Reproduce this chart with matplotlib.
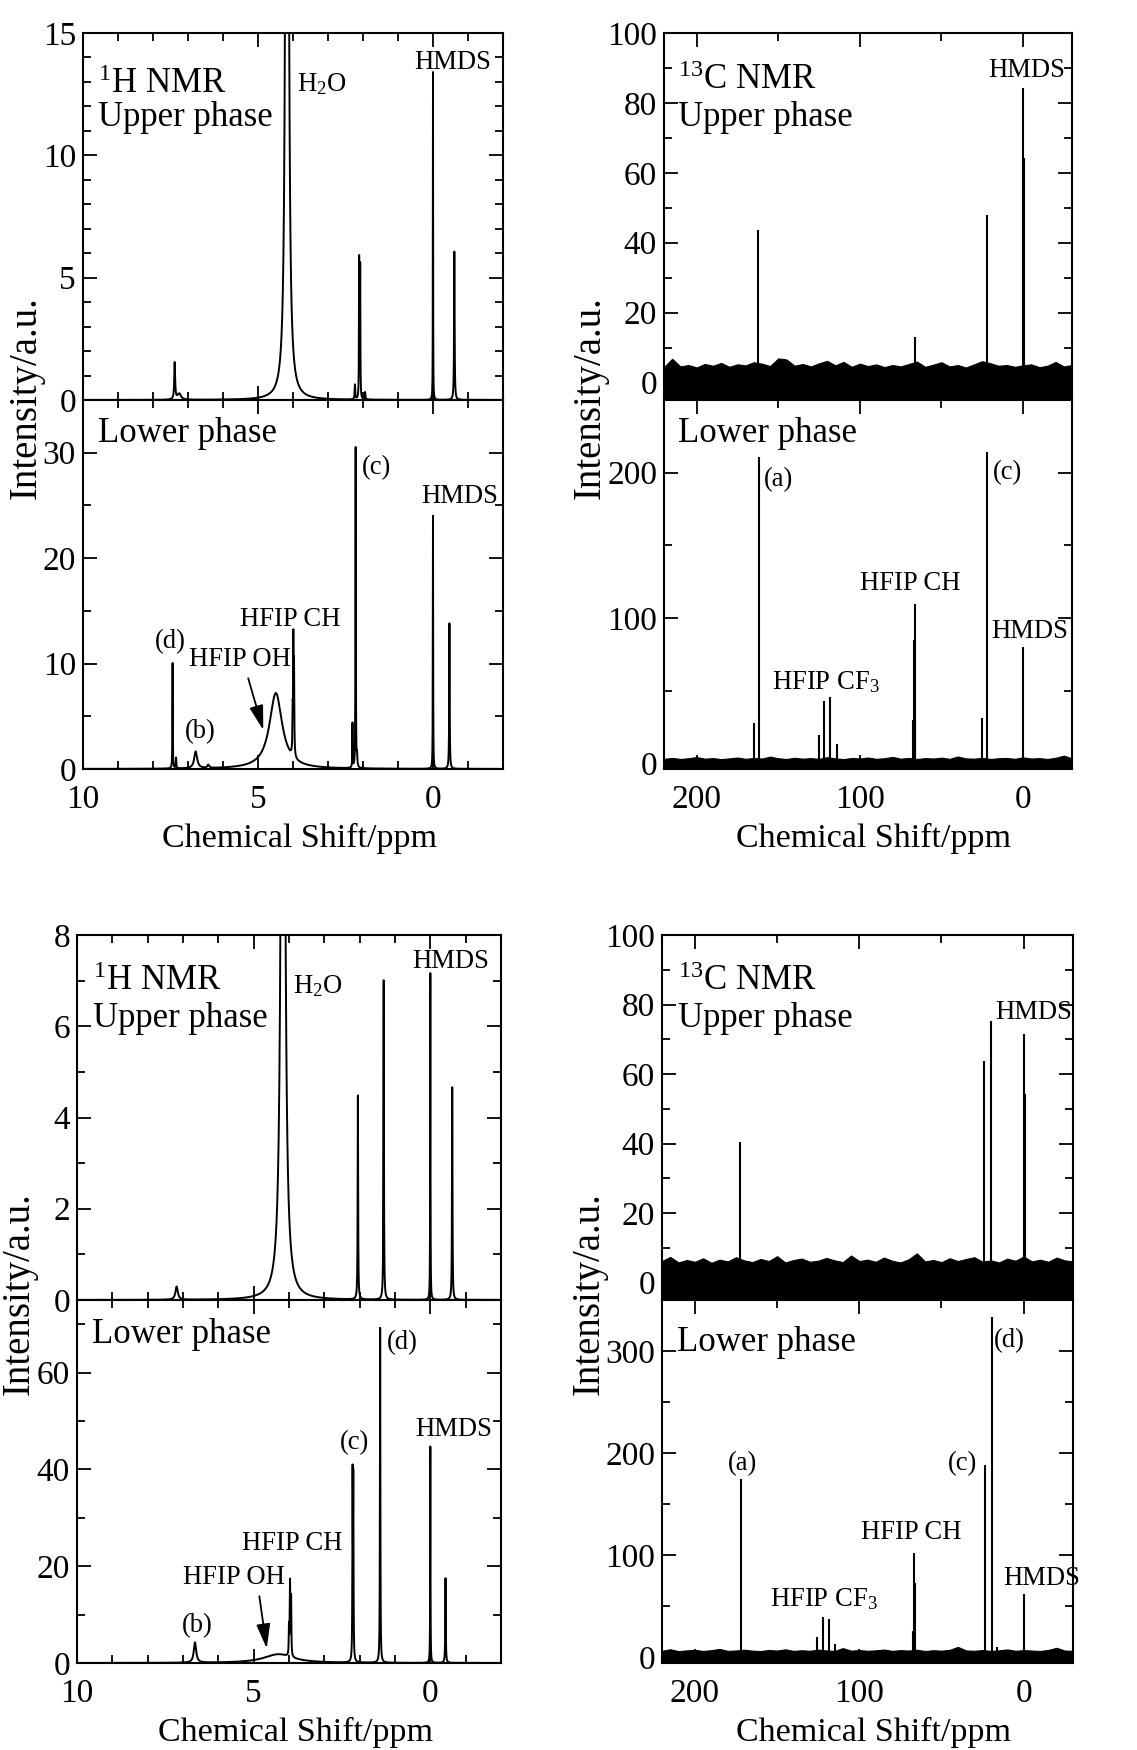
import numpy as np
import matplotlib
matplotlib.use("Agg")
import matplotlib.pyplot as plt
from matplotlib.ticker import MultipleLocator

plt.rcParams['font.family'] = ['Liberation Serif', 'DejaVu Serif']
plt.rcParams['mathtext.fontset'] = 'custom'
plt.rcParams['mathtext.rm'] = 'Liberation Serif'
plt.rcParams['mathtext.it'] = 'Liberation Serif:italic'

# ---- 1H peaks (ppm, height, half width) ----
a_h_up_pos = [7.38, 7.25, 4.17, 2.23, 2.11, 2.08, 1.94, 0.0, -0.61]
a_h_up_hgt = [1.5, 0.25, 100, 0.6, 5.7, 5.4, 0.3, 13.4, 6.06]
a_h_up_wid = [0.015, 0.06, 0.026, 0.01, 0.006, 0.006, 0.01, 0.004, 0.009]

a_h_lo_pos = [7.44, 7.34, 6.78, 6.42, 4.49, 4.01, 3.99, 3.97, 2.30, 2.21, 2.17, 0.0, -0.47]
a_h_lo_hgt = [10.0, 1.0, 1.6, 0.3, 7.2, 3.5, 10.5, 8.0, 4.2, 30.4, 1.0, 24.0, 13.8]
a_h_lo_wid = [0.006, 0.008, 0.05, 0.03, 0.22, 0.008, 0.008, 0.008, 0.006, 0.006, 0.01, 0.005, 0.008]

b_h_up_pos = [7.18, 4.17, 2.05, 1.32, 0.0, -0.62]
b_h_up_hgt = [0.29, 30, 4.47, 7.0, 7.16, 4.66]
b_h_up_wid = [0.04, 0.045, 0.008, 0.008, 0.005, 0.008]

b_h_lo_pos = [6.66, 4.30, 4.00, 3.97, 3.94, 2.20, 2.18, 1.42, 0.0, -0.43]
b_h_lo_hgt = [4.2, 1.8, 6.0, 15.0, 12.0, 37.0, 36.0, 69.2, 44.7, 17.5]
b_h_lo_wid = [0.04, 0.5, 0.008, 0.008, 0.008, 0.007, 0.007, 0.007, 0.005, 0.008]

# ---- 13C peaks (ppm, height) ----
a_c_up_pos = [162.5, 66.1, 22.2, 0.0, -0.6]
a_c_up_hgt = [43.7, 13.0, 48.0, 84.4, 64.2]
a_c_lo_pos = [165.1, 161.9, 125.3, 121.7, 118.0, 114.1, 67.2, 66.8, 66.4, 66.0, 24.9, 21.9, 0.0]
a_c_lo_hgt = [28, 210.8, 19.3, 42.8, 45.3, 12.9, 30, 85, 109.7, 30, 31, 214, 79.8]

b_c_up_pos = [172.3, 24.2, 19.8, 0.0, -0.7]
b_c_up_hgt = [40.4, 63.8, 75.4, 71.4, 54.3]
b_c_lo_pos = [171.7, 125.6, 122.0, 118.2, 114.5, 67.1, 66.7, 66.3, 23.6, 19.2, 16.0, 0.0]
b_c_lo_hgt = [174, 19.6, 39, 37.6, 13, 25, 102, 72, 188, 333, 10, 62]

# 13C noise band: upper edge read every 5 ppm from 220 to -30
noise_ppm = list(range(220, -31, -5))
a_c_up_noise = [4.4, 6.8, 4.6, 5.0, 4.3, 5.3, 4.8, 5.6, 4.5, 5.2,
                4.9, 5.8, 5.4, 4.7, 6.9, 6.6, 4.8, 5.3, 4.6, 5.5,
                6.2, 4.9, 5.9, 4.5, 5.4, 4.7, 5.2, 4.4, 5.0, 4.6,
                5.3, 6.0, 4.5, 5.1, 5.8, 4.6, 5.0, 4.3, 5.2, 6.1,
                5.5, 4.8, 5.0, 4.5, 4.9, 5.2, 4.4, 4.8, 5.9, 4.6, 5.0]
a_c_lo_noise = [3.0, 3.6, 2.9, 3.4, 4.2, 3.1, 3.5, 2.8, 3.3, 3.9,
                3.0, 3.6, 3.2, 4.5, 3.4, 2.9, 3.7, 3.1, 3.5, 3.0,
                4.1, 3.3, 2.8, 3.6, 3.2, 3.9, 3.0, 3.4, 4.3, 3.1,
                3.6, 2.9, 3.5, 3.2, 3.8, 3.0, 4.6, 3.3, 3.1, 3.7,
                2.9, 3.4, 3.6, 3.0, 4.0, 3.2, 3.5, 2.9, 3.7, 5.2, 3.3]
b_c_up_noise = [6.2, 7.4, 5.8, 6.5, 6.0, 7.0, 5.7, 6.6, 6.1, 7.3,
                6.4, 5.9, 6.8, 6.2, 7.6, 5.8, 6.5, 6.9, 6.0, 6.3,
                7.1, 6.4, 5.9, 7.8, 6.2, 6.6, 6.0, 7.2, 6.3, 5.8,
                6.7, 8.4, 6.1, 6.5, 5.9, 7.0, 6.2, 6.8, 7.3, 6.0,
                6.4, 5.8, 6.9, 6.3, 7.5, 6.1, 6.6, 6.0, 7.2, 6.4, 6.1]
b_c_lo_noise = [6.0, 7.5, 5.6, 6.4, 6.9, 5.8, 6.6, 7.8, 5.9, 6.3,
                7.0, 6.1, 5.7, 6.8, 6.2, 7.4, 5.9, 6.5, 6.0, 7.1,
                6.3, 5.8, 8.6, 6.1, 6.7, 6.0, 6.4, 7.2, 5.9, 6.6,
                6.2, 7.0, 5.8, 6.5, 6.1, 6.9, 9.8, 6.3, 6.0, 6.7,
                5.9, 6.4, 7.3, 6.0, 6.6, 6.2, 5.8, 6.8, 8.9, 6.2, 6.0]

W, H = 1137, 1750
BIG, TICK, SMALL = 25, 24, 19.2
fig = plt.figure(figsize=(W / 100, H / 100), dpi=100)


def px_axes(x0, y0, x1, y1, **kw):
    return fig.add_axes([x0 / W, 1 - y1 / H, (x1 - x0) / W, (y1 - y0) / H], **kw)


def style(ax, xmaj, xmin, ymaj, ymin):
    ax.xaxis.set_major_locator(MultipleLocator(xmaj))
    ax.xaxis.set_minor_locator(MultipleLocator(xmin))
    ax.yaxis.set_major_locator(MultipleLocator(ymaj))
    ax.yaxis.set_minor_locator(MultipleLocator(ymin))
    ax.tick_params(which='both', direction='in', top=True, right=True,
                   labelsize=TICK, width=1.3)
    ax.tick_params(which='major', length=10)
    ax.tick_params(which='minor', length=6)
    ax.tick_params(axis='x', pad=11)
    ax.tick_params(axis='y', pad=5)
    for s in ax.spines.values():
        s.set_linewidth(1.5)


def lorentz(x, pos, hgt, wid):
    y = np.zeros_like(x)
    for p, h, w in zip(pos, hgt, wid):
        y += h * w ** 2 / ((x - p) ** 2 + w ** 2)
    return y


def h1_pair(box_up, box_lo, up, lo, ylims, yticks):
    ax1 = px_axes(*box_up)
    ax2 = px_axes(*box_lo, sharex=ax1)
    x = np.linspace(-2, 10, 24001)
    ax1.plot(x, lorentz(x, *up), color='k', lw=1.4)
    ax2.plot(x, lorentz(x, *lo), color='k', lw=1.4)
    ax1.set_xlim(10, -2)
    ax1.set_ylim(*ylims[0])
    ax2.set_ylim(*ylims[1])
    style(ax1, 5, 1, *yticks[0])
    style(ax2, 5, 1, *yticks[1])
    ax1.tick_params(labelbottom=False)
    return ax1, ax2


def c13_pair(box_up, box_lo, up, lo, ylims, yticks):
    ax1 = px_axes(*box_up)
    ax2 = px_axes(*box_lo, sharex=ax1)
    for ax, (pos, hgt, noise), yl in zip([ax1, ax2], [up, lo], ylims):
        ax.fill_between(noise_ppm, yl[0], noise, color='k', lw=0.8)
        ax.vlines(pos, 0, hgt, color='k', lw=1.5)
        ax.set_ylim(*yl)
    ax1.set_xlim(220, -30)
    style(ax1, 100, 50, *yticks[0])
    style(ax2, 100, 50, *yticks[1])
    ax1.tick_params(labelbottom=False)
    return ax1, ax2


def arrow(ax, start, end):
    ax.annotate('', xy=end, xytext=start,
                arrowprops=dict(arrowstyle='-|>,head_length=0.6,head_width=0.17',
                                color='k', lw=1.3, mutation_scale=25,
                                shrinkA=0, shrinkB=0))


# ---- top-left: 1H, sample A ----
ax1, ax2 = h1_pair((83, 33, 503, 400), (83, 400, 503, 769),
                   (a_h_up_pos, a_h_up_hgt, a_h_up_wid),
                   (a_h_lo_pos, a_h_lo_hgt, a_h_lo_wid),
                   [(0, 15), (0, 35)], [(5, 1), (10, 5)])
ax1.text(0.035, 0.86, '$^{1}$H NMR', transform=ax1.transAxes, fontsize=BIG, va='center')
ax1.text(0.035, 0.77, 'Upper phase', transform=ax1.transAxes, fontsize=BIG, va='center')
ax1.text(3.89, 12.9, 'H$_2$O', fontsize=SMALL, va='center')
ax1.text(-0.57, 13.8, 'HMDS', fontsize=SMALL, ha='center', va='center')
ax2.text(0.035, 0.908, 'Lower phase', transform=ax2.transAxes, fontsize=BIG, va='center')
ax2.text(2.03, 28.6, '(c)', fontsize=SMALL, va='center')
ax2.text(-0.76, 25.8, 'HMDS', fontsize=SMALL, ha='center', va='center')
ax2.text(4.07, 14.15, 'HFIP CH', fontsize=SMALL, ha='center', va='center')
ax2.text(7.5, 12.1, '(d)', fontsize=SMALL, ha='center', va='center')
ax2.text(5.51, 10.35, 'HFIP OH', fontsize=SMALL, ha='center', va='center')
ax2.text(6.66, 3.55, '(b)', fontsize=SMALL, ha='center', va='center')
arrow(ax2, (5.28, 8.6), (4.85, 3.7))

# ---- top-right: 13C, sample A ----
ax3, ax4 = c13_pair((664, 33, 1072, 400), (664, 400, 1072, 769),
                    (a_c_up_pos, a_c_up_hgt, a_c_up_noise),
                    (a_c_lo_pos, a_c_lo_hgt, a_c_lo_noise),
                    [(-5, 100), (-4, 250)], [(20, 10), (100, 50)])
ax3.text(0.035, 0.87, '$^{13}$C NMR', transform=ax3.transAxes, fontsize=BIG, va='center')
ax3.text(0.035, 0.77, 'Upper phase', transform=ax3.transAxes, fontsize=BIG, va='center')
ax3.text(-2.4, 89.4, 'HMDS', fontsize=SMALL, ha='center', va='center')
ax4.text(0.035, 0.908, 'Lower phase', transform=ax4.transAxes, fontsize=BIG, va='center')
ax4.text(158.6, 195, '(a)', fontsize=SMALL, va='center')
ax4.text(18.6, 200, '(c)', fontsize=SMALL, va='center')
ax4.text(69.2, 124, 'HFIP CH', fontsize=SMALL, ha='center', va='center')
ax4.text(-4.3, 90.6, 'HMDS', fontsize=SMALL, ha='center', va='center')
ax4.text(120.6, 56, 'HFIP CF$_3$', fontsize=SMALL, ha='center', va='center')

# ---- bottom-left: 1H, sample B ----
ax5, ax6 = h1_pair((77, 935, 501, 1300), (77, 1300, 501, 1663),
                   (b_h_up_pos, b_h_up_hgt, b_h_up_wid),
                   (b_h_lo_pos, b_h_lo_hgt, b_h_lo_wid),
                   [(0, 8), (0, 75)], [(2, 1), (20, 10)])
ax5.text(0.038, 0.872, '$^{1}$H NMR', transform=ax5.transAxes, fontsize=BIG, va='center')
ax5.text(0.038, 0.77, 'Upper phase', transform=ax5.transAxes, fontsize=BIG, va='center')
ax5.text(3.89, 6.87, 'H$_2$O', fontsize=SMALL, va='center')
ax5.text(-0.57, 7.42, 'HMDS', fontsize=SMALL, ha='center', va='center')
ax6.text(0.035, 0.906, 'Lower phase', transform=ax6.transAxes, fontsize=BIG, va='center')
ax6.text(1.23, 66.2, '(d)', fontsize=SMALL, va='center')
ax6.text(2.15, 45.6, '(c)', fontsize=SMALL, ha='center', va='center')
ax6.text(-0.66, 48.2, 'HMDS', fontsize=SMALL, ha='center', va='center')
ax6.text(3.92, 24.7, 'HFIP CH', fontsize=SMALL, ha='center', va='center')
ax6.text(5.55, 17.6, 'HFIP OH', fontsize=SMALL, ha='center', va='center')
ax6.text(6.61, 7.8, '(b)', fontsize=SMALL, ha='center', va='center')
arrow(ax6, (4.84, 13.8), (4.63, 3.0))

# ---- bottom-right: 13C, sample B ----
ax7, ax8 = c13_pair((662, 935, 1073, 1300), (662, 1300, 1073, 1663),
                    (b_c_up_pos, b_c_up_hgt, b_c_up_noise),
                    (b_c_lo_pos, b_c_lo_hgt, b_c_lo_noise),
                    [(-5, 100), (-6, 350)], [(20, 10), (100, 50)])
ax7.text(0.04, 0.872, '$^{13}$C NMR', transform=ax7.transAxes, fontsize=BIG, va='center')
ax7.text(0.04, 0.77, 'Upper phase', transform=ax7.transAxes, fontsize=BIG, va='center')
ax7.text(-5.8, 77.6, 'HMDS', fontsize=SMALL, ha='center', va='center')
ax8.text(0.036, 0.883, 'Lower phase', transform=ax8.transAxes, fontsize=BIG, va='center')
ax8.text(18.2, 310, '(d)', fontsize=SMALL, va='center')
ax8.text(37, 189.6, '(c)', fontsize=SMALL, ha='center', va='center')
ax8.text(171.2, 189.6, '(a)', fontsize=SMALL, ha='center', va='center')
ax8.text(68.2, 121.6, 'HFIP CH', fontsize=SMALL, ha='center', va='center')
ax8.text(-11, 76.9, 'HMDS', fontsize=SMALL, ha='center', va='center')
ax8.text(121.8, 57, 'HFIP CF$_3$', fontsize=SMALL, ha='center', va='center')

# shared axis titles
for xc, yc in [(299, 838), (874, 838), (295, 1732), (874, 1732)]:
    fig.text(xc / W, 1 - yc / H, 'Chemical Shift/ppm', fontsize=24.5, ha='center', va='center')
for xc, yc in [(26, 398), (590, 398), (19, 1294), (589, 1294)]:
    fig.text(xc / W, 1 - yc / H, 'Intensity/a.u.', fontsize=28, rotation=90,
             ha='center', va='center')

fig.savefig('out.png', dpi=100)
